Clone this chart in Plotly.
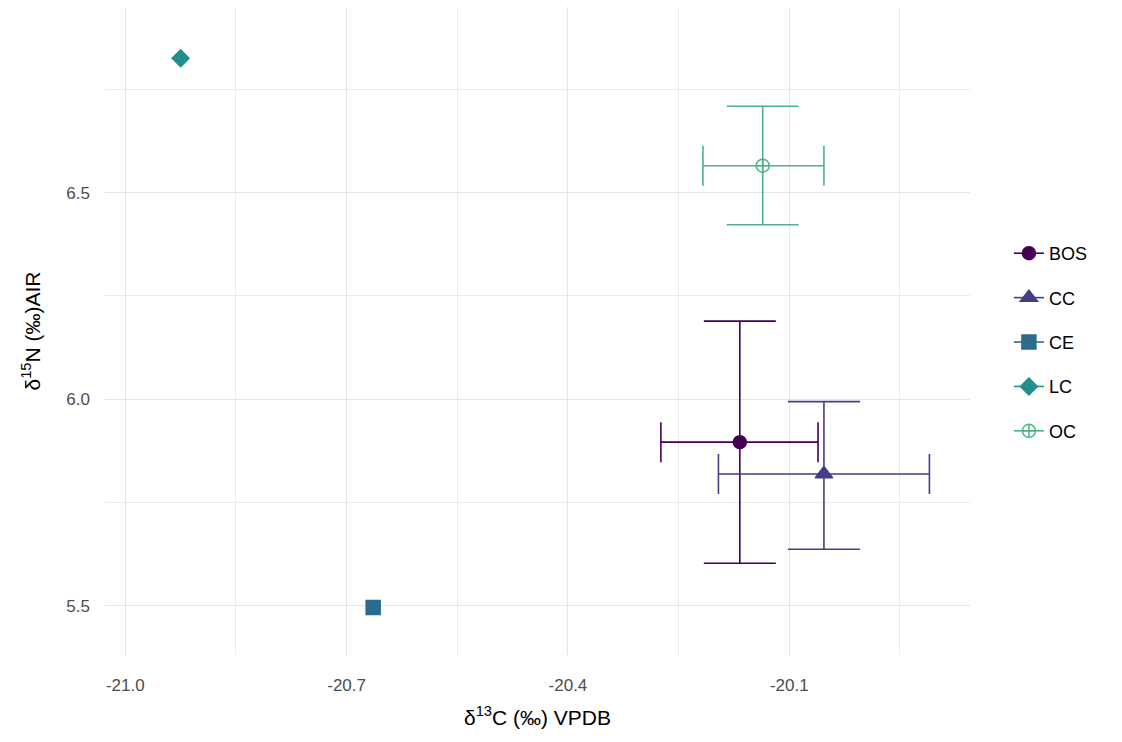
import plotly.graph_objects as go

groups = ["BOS", "CC", "CE", "LC", "OC"]
d13c = [-20.167, -20.053, -20.664, -20.925, -20.136]
d15n = [5.896, 5.819, 5.496, 6.825, 6.565]
c_lo = [-20.274, -20.196, None, None, -20.217]
c_hi = [-20.061, -19.910, None, None, -20.053]
n_lo = [5.603, 5.637, None, None, 6.422]
n_hi = [6.189, 5.994, None, None, 6.709]
colors = ["#440154", "#433E85", "#2C6B8E", "#21908C", "#4DB386"]
symbols = ["circle", "triangle-up", "square", "diamond", "circle-cross-open"]
sizes = [13, 15, 14, 13, 13]

fig = go.Figure()
for i, g in enumerate(groups):
    tr = dict(
        x=[d13c[i]], y=[d15n[i]], name=g, mode="lines+markers",
        legendgroup=g,
        marker=dict(color=colors[i], symbol=symbols[i], size=sizes[i],
                    line=dict(color=colors[i], width=1.5)),
        line=dict(color=colors[i], width=1.6),
    )
    if c_lo[i] is not None:
        tr["error_x"] = dict(type="data", symmetric=False,
                             array=[c_hi[i] - d13c[i]], arrayminus=[d13c[i] - c_lo[i]],
                             color=colors[i], thickness=1.6, width=20)
        tr["error_y"] = dict(type="data", symmetric=False,
                             array=[n_hi[i] - d15n[i]], arrayminus=[d15n[i] - n_lo[i]],
                             color=colors[i], thickness=1.6, width=36)
    fig.add_trace(go.Scatter(**tr))

axis_common = dict(
    showline=False, zeroline=False, ticks="",
    gridcolor="#E6E6E6", gridwidth=1.4,
    tickfont=dict(family="Liberation Sans, Arial", size=17, color="#4D4D4D"),
)

fig.update_layout(
    width=1122, height=742,
    margin=dict(l=105, r=152, t=7, b=87),
    paper_bgcolor="white", plot_bgcolor="white",
    font=dict(family="Liberation Sans, Arial", color="black"),
    xaxis=dict(range=[-21.0275, -19.855], tickmode="array",
               tickvals=[-21.0, -20.7, -20.4, -20.1],
               ticktext=["-21.0", "-20.7", "-20.4", "-20.1"],
               ticklabelstandoff=18,
               title=dict(text="δ<sup>13</sup>C (‰) VPDB", font=dict(size=21), standoff=16),
               **axis_common),
    yaxis=dict(range=[5.381, 6.949], tickmode="array",
               tickvals=[5.5, 6.0, 6.5], ticktext=["5.5", "6.0", "6.5"],
               ticklabelstandoff=14,
               title=dict(text="δ<sup>15</sup>N (‰)AIR", font=dict(size=21), standoff=20),
               **axis_common),
    showlegend=True,
    legend=dict(x=1.045, y=0.483, xanchor="left", yanchor="middle",
                font=dict(size=18, color="black"), tracegroupgap=18,
                bgcolor="rgba(0,0,0,0)"),
)
fig.update_xaxes(minor=dict(showgrid=True, gridcolor="#EBEBEB", gridwidth=1.2,
                            tickmode="array", tickvals=[-20.85, -20.55, -20.25, -19.95]))
fig.update_yaxes(minor=dict(showgrid=True, gridcolor="#EBEBEB", gridwidth=1.2,
                            tickmode="array", tickvals=[5.75, 6.25, 6.75]))

fig.write_html("out.html")
